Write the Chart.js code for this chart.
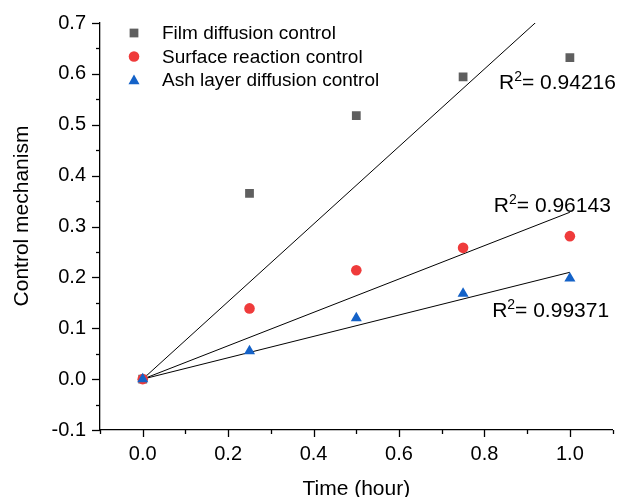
<!DOCTYPE html>
<html>
<head>
<meta charset="utf-8">
<script src="https://cdn.jsdelivr.net/npm/chart.js@4/dist/chart.umd.min.js"></script>
<style>
  body { margin: 0; background: #fff; }
  canvas { display: block; }
</style>
</head>
<body>
<canvas id="kinetics" width="619" height="497"></canvas>
<script>
// sampling times (hour)
const times = [0, 0.25, 0.5, 0.75, 1.0];

// fraction vs. time for each shrinking-core model
const filmDiffusion = [0, 0.365, 0.518, 0.594, 0.632];
const surfaceReaction = [0, 0.139, 0.214, 0.258, 0.281];
const ashDiffusion = [0, 0.055, 0.120, 0.168, 0.198];

// linear fits through the origin: value at t = 1 h
const fitEnd = [0.762, 0.328, 0.210];
const rSquared = ["0.94216", "0.96143", "0.99371"];
// where each R² label sits, in data units [time, value]
const rLabelAt = [[0.834, 0.585], [0.822, 0.342], [0.818, 0.136]];

const seriesNames = ["Film diffusion control", "Surface reaction control", "Ash layer diffusion control"];
const seriesColors = ["#5f5f5f", "#ef3b3b", "#1462c8"];
const seriesShapes = ["rect", "circle", "triangle"];
const seriesRadius = [6.2, 5.3, 6.4];

const yTicks = [-0.1, 0, 0.1, 0.2, 0.3, 0.4, 0.5, 0.6, 0.7];
const xTicks = [0, 0.2, 0.4, 0.6, 0.8, 1.0];

const FONT = "'Liberation Sans', Arial, sans-serif";

function pts(ys) {
  return times.map((t, i) => ({ x: t, y: ys[i] }));
}

function isMajor(v, step) {
  const k = v / step;
  return Math.abs(k - Math.round(k)) < 1e-6;
}

function fmt(v) {
  return (Math.abs(v) < 1e-9 ? 0 : v).toFixed(1);
}

function drawMarker(ctx, shape, r, x, y, color) {
  ctx.save();
  ctx.fillStyle = color;
  ctx.beginPath();
  if (shape === "rect") {
    const s = r * Math.SQRT1_2;
    ctx.rect(x - s, y - s, 2 * s, 2 * s);
  } else if (shape === "circle") {
    ctx.arc(x, y, r, 0, Math.PI * 2);
  } else {
    ctx.moveTo(x, y - r);
    ctx.lineTo(x + r * Math.sin(Math.PI * 2 / 3), y + r * 0.5);
    ctx.lineTo(x - r * Math.sin(Math.PI * 2 / 3), y + r * 0.5);
    ctx.closePath();
  }
  ctx.fill();
  ctx.restore();
}

// tick marks, axis titles, legend and R² notes
const decorations = {
  id: "decorations",
  afterDraw(chart) {
    const ctx = chart.ctx;
    const xs = chart.scales.x, ys = chart.scales.y;
    const area = chart.chartArea;
    ctx.save();
    ctx.strokeStyle = "#000";
    ctx.lineWidth = 1.3;
    ys.ticks.forEach(t => {
      const py = Math.round(ys.getPixelForValue(t.value)) + 0.5;
      const len = isMajor(t.value, 0.1) ? 8 : 4;
      ctx.beginPath();
      ctx.moveTo(area.left - len, py);
      ctx.lineTo(area.left, py);
      ctx.stroke();
    });
    xs.ticks.forEach(t => {
      const px = Math.round(xs.getPixelForValue(t.value)) + 0.5;
      const len = isMajor(t.value, 0.2) ? 7 : 4;
      ctx.beginPath();
      ctx.moveTo(px, area.bottom);
      ctx.lineTo(px, area.bottom + len);
      ctx.stroke();
    });

    ctx.fillStyle = "#000";
    ctx.font = "21px " + FONT;
    ctx.textAlign = "center";
    ctx.textBaseline = "alphabetic";
    ctx.fillText("Time (hour)", (area.left + area.right) / 2, 495);
    ctx.save();
    ctx.translate(28, 216);
    ctx.rotate(-Math.PI / 2);
    ctx.fillText("Control mechanism", 0, 0);
    ctx.restore();

    // legend
    ctx.font = "19px " + FONT;
    ctx.textAlign = "left";
    ctx.textBaseline = "middle";
    seriesNames.forEach((name, i) => {
      const y = 33 + i * 23.5;
      drawMarker(ctx, seriesShapes[i], seriesRadius[i], 134, y + (i === 2 ? 1 : 0), seriesColors[i]);
      ctx.fillText(name, 162, y + 1);
    });

    // R² annotations
    rSquared.forEach((val, i) => {
      let x = xs.getPixelForValue(rLabelAt[i][0]);
      const y = ys.getPixelForValue(rLabelAt[i][1]) + 7;
      ctx.textBaseline = "alphabetic";
      ctx.font = "21px " + FONT;
      ctx.fillText("R", x, y);
      x += ctx.measureText("R").width;
      ctx.font = "14px " + FONT;
      ctx.fillText("2", x, y - 8);
      x += ctx.measureText("2").width;
      ctx.font = "21px " + FONT;
      ctx.fillText("= " + val, x, y);
    });
    ctx.restore();
  }
};

const scatterSets = [filmDiffusion, surfaceReaction, ashDiffusion].map((ys, i) => ({
  type: "scatter",
  label: seriesNames[i],
  data: pts(ys),
  pointStyle: seriesShapes[i],
  pointRadius: seriesRadius[i],
  pointHoverRadius: seriesRadius[i],
  backgroundColor: seriesColors[i],
  borderWidth: 0,
  order: 3 - i
}));

const fitSets = fitEnd.map(v => ({
  type: "line",
  data: [{ x: 0, y: 0 }, { x: 1, y: v }],
  borderColor: "#000",
  borderWidth: 1,
  pointRadius: 0,
  order: 4
}));

new Chart(document.getElementById("kinetics"), {
  data: { datasets: [...fitSets, ...scatterSets] },
  options: {
    responsive: false,
    animation: false,
    events: [],
    layout: { padding: { top: 23, right: 6, left: 0, bottom: 0 } },
    plugins: { legend: { display: false }, tooltip: { enabled: false } },
    scales: {
      x: {
        type: "linear",
        min: -0.1,
        max: 1.1,
        grid: { display: false, drawTicks: false },
        border: { display: true, color: "#000", width: 1.3 },
        ticks: {
          stepSize: 0.1,
          padding: 12,
          color: "#000",
          font: { family: FONT, size: 20 },
          maxRotation: 0,
          autoSkip: false,
          callback: v => (isMajor(v, 0.2) && xTicks.some(t => Math.abs(t - v) < 1e-6)) ? fmt(v) : ""
        },
        afterFit: s => { s.height = 67; s.paddingLeft = 0; s.paddingRight = 0; }
      },
      y: {
        type: "linear",
        min: -0.1,
        max: 0.7,
        grid: { display: false, drawTicks: false },
        border: { display: true, color: "#000", width: 1.3 },
        ticks: {
          stepSize: 0.05,
          padding: 14,
          color: "#000",
          font: { family: FONT, size: 20 },
          autoSkip: false,
          callback: v => (isMajor(v, 0.1) && yTicks.some(t => Math.abs(t - v) < 1e-6)) ? fmt(v) : ""
        },
        afterFit: s => { s.width = 100; s.paddingTop = 0; s.paddingBottom = 0; }
      }
    }
  },
  plugins: [decorations]
});
</script>
</body>
</html>
